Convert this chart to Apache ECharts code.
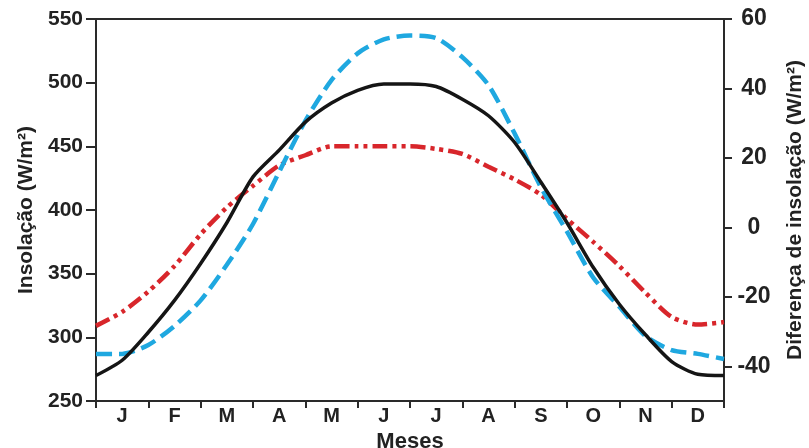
<!DOCTYPE html>
<html>
<head>
<meta charset="utf-8">
<script src="https://cdn.jsdelivr.net/npm/echarts@6/dist/echarts.min.js"></script>
<style>
html,body{margin:0;padding:0;background:#fff;}
#chart{width:809px;height:448px;}
</style>
</head>
<body>
<div id="chart"></div>
<script>
var months = ['J','F','M','A','M','J','J','A','S','O','N','D'];
var monthPos = [0,0.5,1,1.5,2,2.5,3,3.5,4,4.5,5,5.5,6,6.5,7,7.5,8,8.5,9,9.5,10,10.5,11,11.5,12];
var blackSeries = [270,282,304,329,358,390,426,447,469,484,494,499,499,497,487,474,453,422,390,355,326,302,281,271,270];
var blueSeries  = [287,287,294,309,329,357,389,430,470,502,523,534,537,535,520,498,460,418,383,347,324,301,290,287,283];
var redSeries   = [309,320,336,356,381,402,419,435,443,450,450,450,450,448,444,434,424,412,393,375,356,335,316,310,312];
var rightTicks = [-40,-20,0,20,40,60];

function pairs(vals){ return vals.map(function(v,i){ return [monthPos[i], v]; }); }

var axisColor = '#2a2a2a';
var textColor = '#222';
var fontFam = '"Liberation Sans", Arial, sans-serif';
var chart = echarts.init(document.getElementById('chart'));
chart.setOption({
  animation: false,
  backgroundColor: '#fff',
  grid: {left: 96, right: 85, top: 19, bottom: 47, containLabel: false, outerBoundsMode: 'none',
         show: true, borderColor: axisColor, borderWidth: 2, backgroundColor: 'transparent'},
  xAxis: [{
    type: 'category', data: months, boundaryGap: true,
    name: 'Meses', nameLocation: 'middle', nameGap: 21,
    nameTextStyle: {fontFamily: fontFam, fontWeight: 'bold', fontSize: 22, color: textColor},
    axisLine: {onZero: false, lineStyle: {color: axisColor, width: 2}},
    axisTick: {show: true, length: 7, lineStyle: {color: axisColor, width: 2}},
    axisLabel: {fontFamily: fontFam, fontWeight: 'bold', fontSize: 20, color: textColor, margin: 5},
    splitLine: {show: false}
  },{
    type: 'value', min: 0, max: 12, show: false
  }],
  yAxis: [{
    type: 'value', min: 250, max: 550, interval: 50, position: 'left',
    name: 'Insolação (W/m²)', nameLocation: 'middle', nameGap: 59, nameRotate: 90,
    nameTextStyle: {fontFamily: fontFam, fontWeight: 'bold', fontSize: 21, color: textColor},
    axisLine: {show: true, onZero: false, lineStyle: {color: axisColor, width: 2}},
    axisTick: {show: true, length: 10, lineStyle: {color: axisColor, width: 2}},
    axisLabel: {fontFamily: fontFam, fontWeight: 'bold', fontSize: 21, color: textColor, margin: 13},
    splitLine: {show: false}
  },{
    type: 'value', min: -50, max: 60, position: 'right',
    name: 'Diferença de insolação (W/m²)', nameLocation: 'middle', nameGap: 61, nameRotate: 90,
    nameTextStyle: {fontFamily: fontFam, fontWeight: 'bold', fontSize: 21, color: textColor},
    axisLine: {show: true, onZero: false, lineStyle: {color: axisColor, width: 2}},
    axisTick: {show: true, length: 8, customValues: rightTicks, lineStyle: {color: axisColor, width: 2}},
    axisLabel: {fontFamily: fontFam, fontWeight: 'bold', fontSize: 23, color: textColor, margin: 30, align: 'center', customValues: rightTicks},
    splitLine: {show: false}
  }],
  series: [{
    name: 'red', type: 'line', xAxisIndex: 1, yAxisIndex: 0, data: pairs(redSeries),
    showSymbol: false, smooth: 0.25,
    lineStyle: {color: '#d8262b', width: 4.5, type: [15,5,4,5,4,5]}
  },{
    name: 'blue', type: 'line', xAxisIndex: 1, yAxisIndex: 0, data: pairs(blueSeries),
    showSymbol: false, smooth: 0.25,
    lineStyle: {color: '#1fa8e0', width: 4.5, type: [16,7]}
  },{
    name: 'black', type: 'line', xAxisIndex: 1, yAxisIndex: 0, data: pairs(blackSeries),
    showSymbol: false, smooth: 0.25,
    lineStyle: {color: '#151515', width: 3.5, type: 'solid'}
  }]
});
</script>
</body>
</html>
